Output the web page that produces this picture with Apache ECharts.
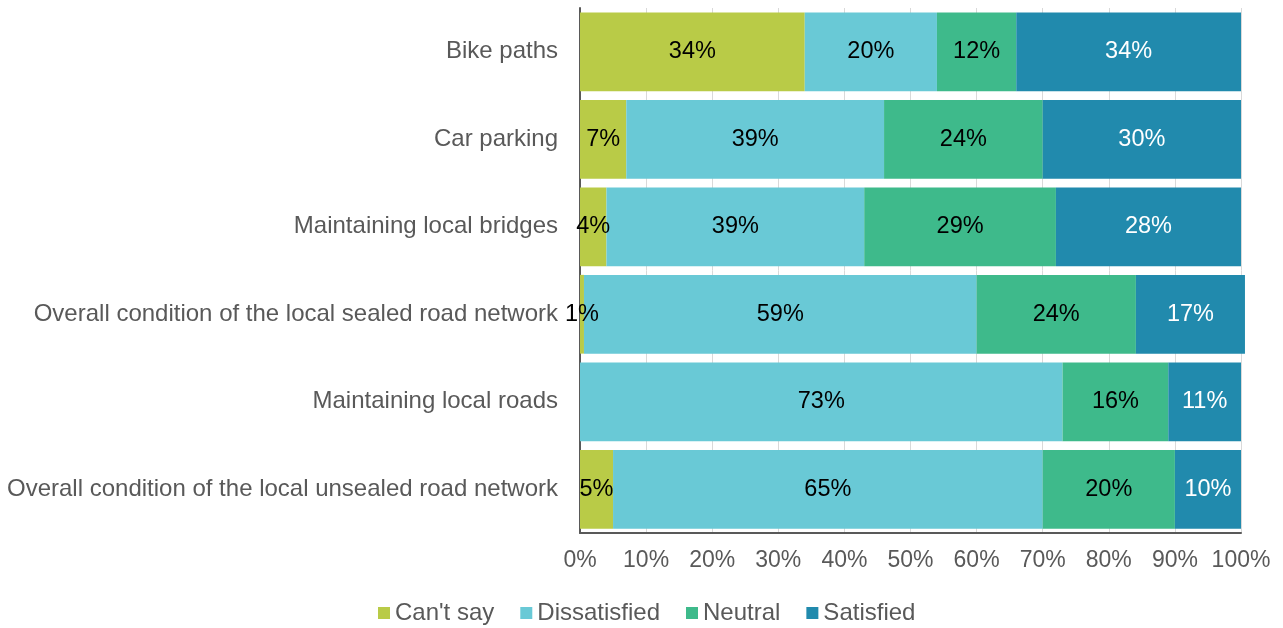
<!DOCTYPE html>
<html>
<head>
<meta charset="utf-8">
<title>Satisfaction with roads and paths</title>
<script src="https://cdn.jsdelivr.net/npm/echarts@6/dist/echarts.min.js"></script>
<style>
  html, body { margin: 0; padding: 0; background: #fff; }
  #main { width: 1283px; height: 628px; }
</style>
</head>
<body>
<div id="main"></div>
<script type="text/javascript">
// categories, top to bottom
var categories = [
  'Bike paths',
  'Car parking',
  'Maintaining local bridges',
  'Overall condition of the local sealed road network',
  'Maintaining local roads',
  'Overall condition of the local unsealed road network'
];
var cantSay      = [34, 7, 4, 0.6, 0, 5];
var dissatisfied = [20, 39, 39, 59.4, 73, 65];
var neutral      = [12, 24, 29, 24.1, 16, 20];
var satisfied    = [34, 30, 28, 16.5, 11, 10];
var xTicks = [0, 10, 20, 30, 40, 50, 60, 70, 80, 90, 100];

var font = 'Liberation Sans, Arial, sans-serif';

function pct(p) {
  return p.value > 0 ? Math.round(p.value) + '%' : '';
}

function makeSeries(name, data, color, labelColor) {
  return {
    name: name,
    type: 'bar',
    stack: 'total',
    data: data,
    barCategoryGap: '10%',
    clip: false,
    itemStyle: { color: color },
    label: {
      show: true,
      position: 'inside',
      formatter: pct,
      color: labelColor,
      fontSize: 23.5,
      fontFamily: font
    },
    emphasis: { disabled: true }
  };
}

var myChart = echarts.init(document.getElementById('main'));
var option = {
  animation: false,
  grid: { left: 580, right: 42, top: 8, bottom: 95, containLabel: false },
  legend: {
    top: 596,
    left: 373,
    itemWidth: 12,
    itemHeight: 12,
    itemGap: 26,
    icon: 'rect',
    textStyle: { fontSize: 24, color: '#595959', fontFamily: font }
  },
  xAxis: {
    type: 'value',
    min: 0,
    max: 100,
    interval: 10,
    axisLine: { show: true, lineStyle: { color: '#595959', width: 2 } },
    axisTick: { show: false },
    axisLabel: {
      margin: 16,
      fontSize: 23,
      color: '#595959',
      fontFamily: font,
      formatter: function (v) { return xTicks.indexOf(v) >= 0 ? v + '%' : ''; }
    },
    splitLine: { show: true, lineStyle: { color: '#d9d9d9', width: 1 } }
  },
  yAxis: {
    type: 'category',
    inverse: true,
    data: categories,
    axisLine: { show: true, lineStyle: { color: '#595959', width: 2 } },
    axisTick: { show: false },
    axisLabel: { margin: 22, fontSize: 24, color: '#595959', fontFamily: font }
  },
  series: [
    makeSeries("Can't say", cantSay, '#b9cb47', '#000'),
    makeSeries('Dissatisfied', dissatisfied, '#69c9d6', '#000'),
    makeSeries('Neutral', neutral, '#3eba8b', '#000'),
    makeSeries('Satisfied', satisfied, '#218aad', '#fff')
  ]
};
myChart.setOption(option);
</script>
</body>
</html>
